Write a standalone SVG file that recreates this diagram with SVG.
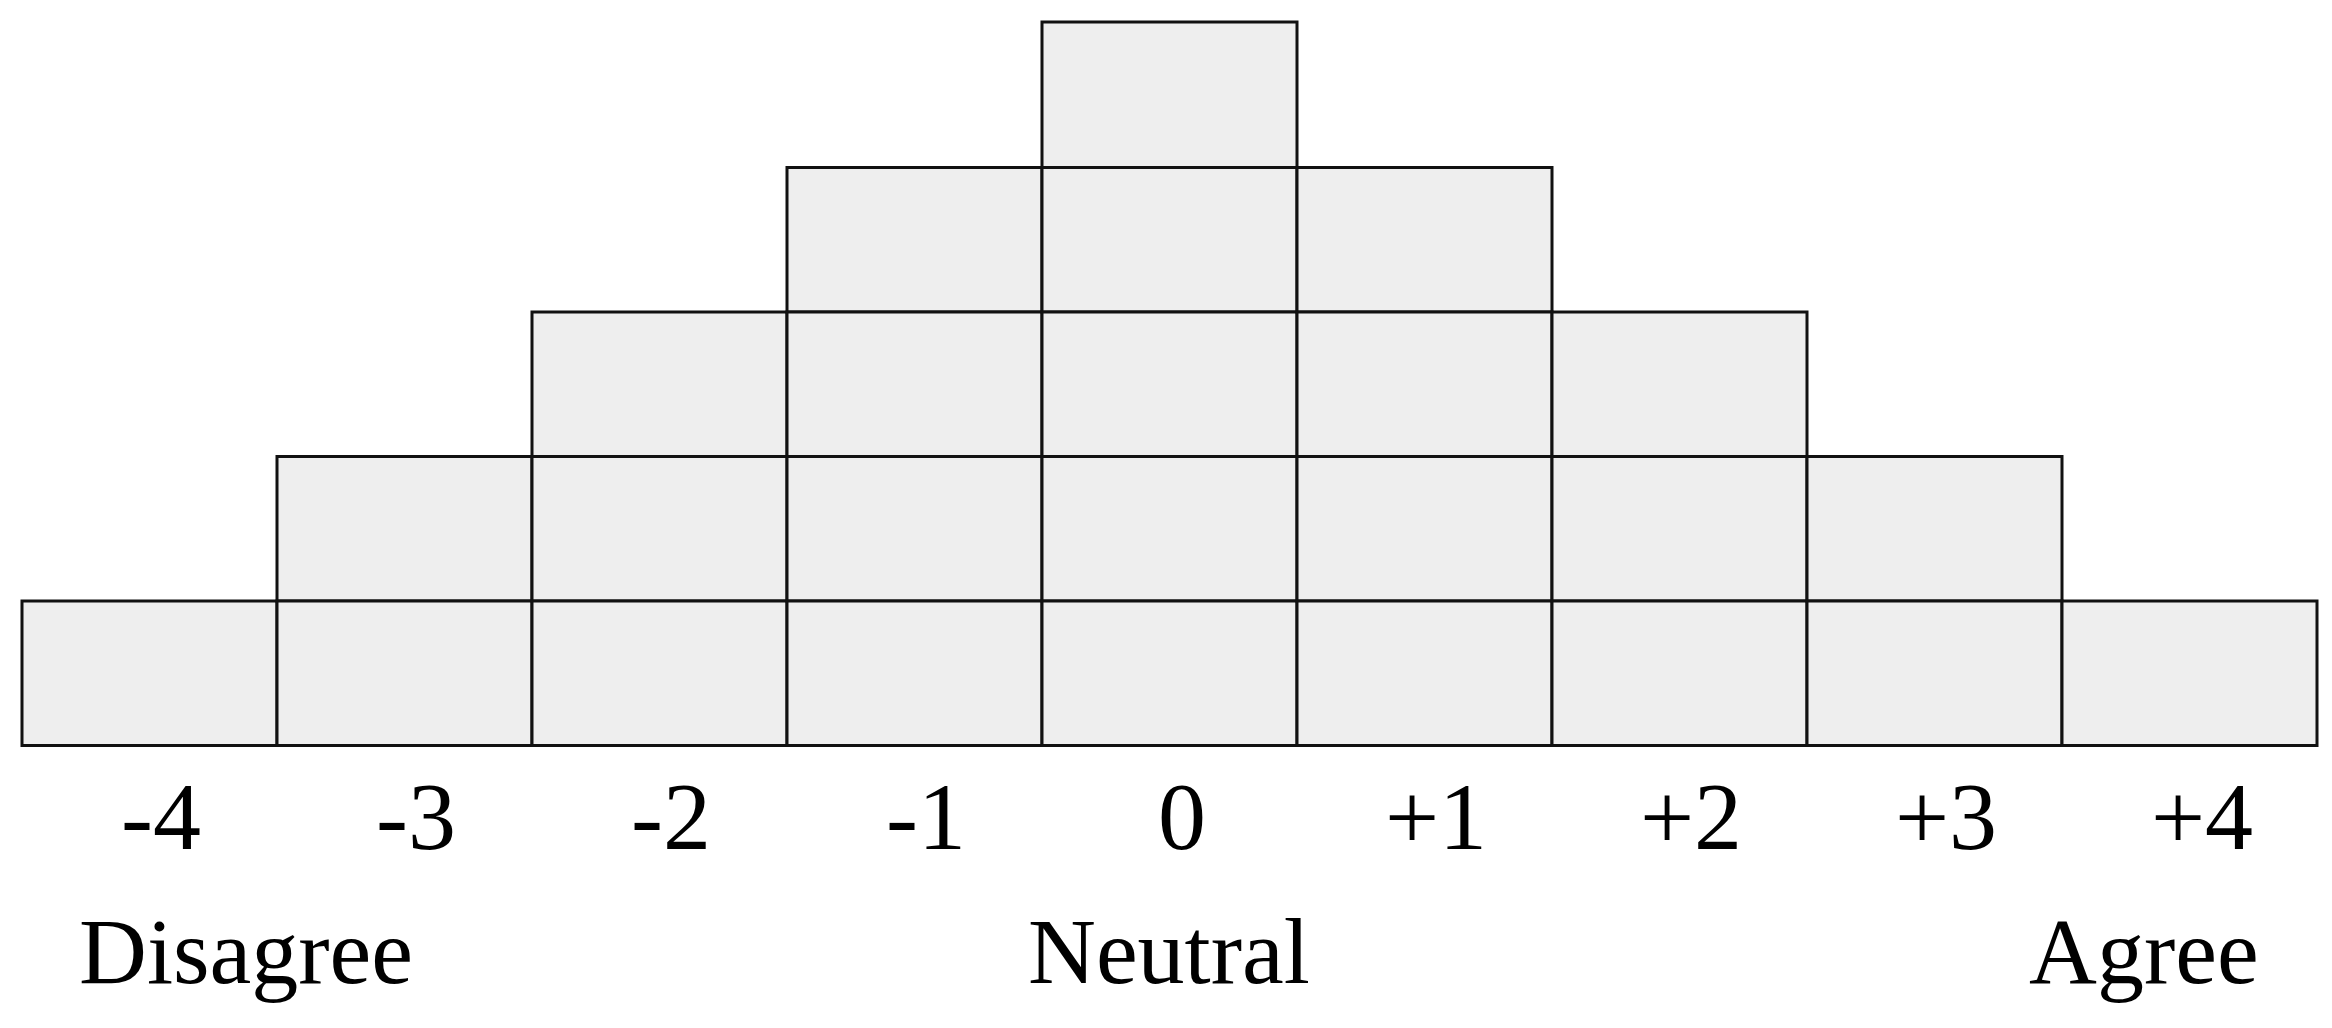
<svg xmlns="http://www.w3.org/2000/svg" width="2332" height="1028" viewBox="0 0 2332 1028">
<style>
.c{fill:#eeeeee;stroke:#111111;stroke-width:3}
.n{font-family:"Liberation Serif","Times New Roman",serif;font-size:96px;fill:#000;text-anchor:middle}
.l{font-family:"Liberation Serif","Times New Roman",serif;font-size:94px;fill:#000}
</style>
<rect width="2332" height="1028" fill="#ffffff"/>
<g id="grid">
<g id="col-m4"><rect class="c" x="22" y="601" width="255" height="144.5"/></g>
<g id="col-m3"><rect class="c" x="277" y="456.5" width="255" height="144.5"/><rect class="c" x="277" y="601" width="255" height="144.5"/></g>
<g id="col-m2"><rect class="c" x="532" y="312" width="255" height="144.5"/><rect class="c" x="532" y="456.5" width="255" height="144.5"/><rect class="c" x="532" y="601" width="255" height="144.5"/></g>
<g id="col-m1"><rect class="c" x="787" y="167.5" width="255" height="144.5"/><rect class="c" x="787" y="312" width="255" height="144.5"/><rect class="c" x="787" y="456.5" width="255" height="144.5"/><rect class="c" x="787" y="601" width="255" height="144.5"/></g>
<g id="col-0"><rect class="c" x="1042" y="22" width="255" height="145.5"/><rect class="c" x="1042" y="167.5" width="255" height="144.5"/><rect class="c" x="1042" y="312" width="255" height="144.5"/><rect class="c" x="1042" y="456.5" width="255" height="144.5"/><rect class="c" x="1042" y="601" width="255" height="144.5"/></g>
<g id="col-p1"><rect class="c" x="1297" y="167.5" width="255" height="144.5"/><rect class="c" x="1297" y="312" width="255" height="144.5"/><rect class="c" x="1297" y="456.5" width="255" height="144.5"/><rect class="c" x="1297" y="601" width="255" height="144.5"/></g>
<g id="col-p2"><rect class="c" x="1552" y="312" width="255" height="144.5"/><rect class="c" x="1552" y="456.5" width="255" height="144.5"/><rect class="c" x="1552" y="601" width="255" height="144.5"/></g>
<g id="col-p3"><rect class="c" x="1807" y="456.5" width="255" height="144.5"/><rect class="c" x="1807" y="601" width="255" height="144.5"/></g>
<g id="col-p4"><rect class="c" x="2062" y="601" width="255" height="144.5"/></g>
</g>
<g id="connectors"/>
<g id="scale">
<text class="n" x="161" y="849">-4</text>
<text class="n" x="416" y="849">-3</text>
<text class="n" x="671" y="849">-2</text>
<text class="n" x="926" y="849">-1</text>
<text class="n" x="1182" y="849">0</text>
<text class="n" x="1436" y="849">+1</text>
<text class="n" x="1691" y="849">+2</text>
<text class="n" x="1946" y="849">+3</text>
<text class="n" x="2202" y="849">+4</text>
</g>
<g id="labels">
<text class="l" x="79" y="983">Disagree</text>
<text class="l" x="1028" y="983">Neutral</text>
<text class="l" x="2029" y="983">Agree</text>
</g>
</svg>
